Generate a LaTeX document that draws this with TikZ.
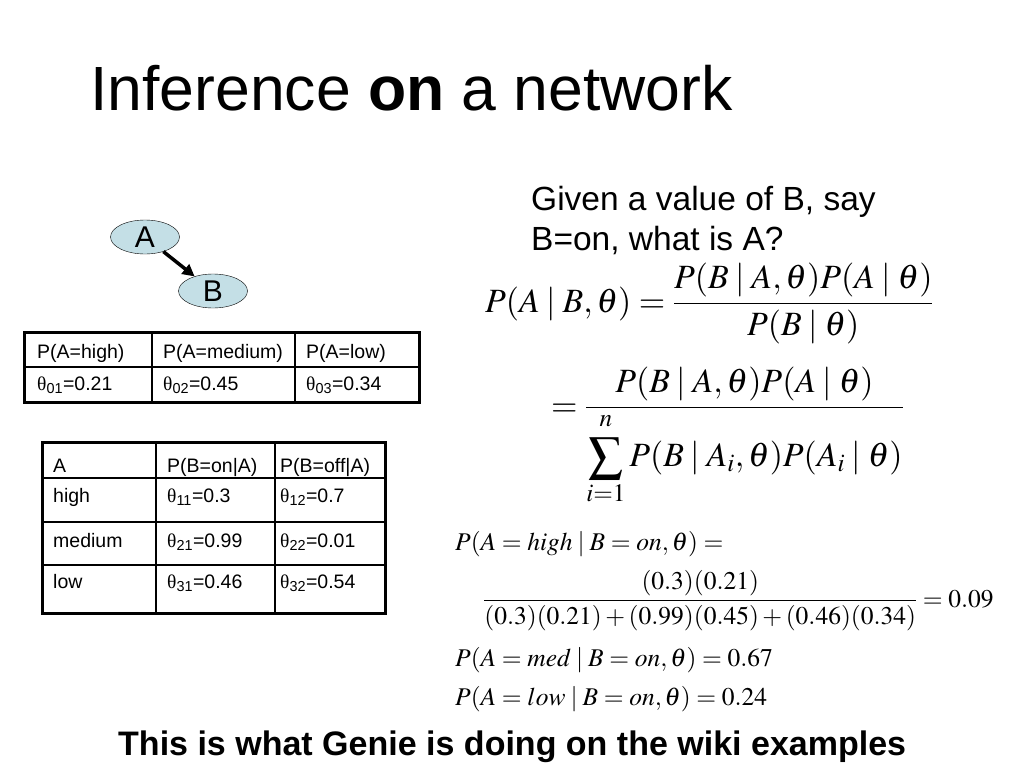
\documentclass[tikz,border=0pt]{standalone}
\usepackage{amsmath}
\usepackage{mathptmx}
\usepackage[no-math]{fontspec}
\setmainfont{Liberation Sans}
\newfontfamily\tms{Liberation Serif}
\usetikzlibrary{shapes.geometric,arrows.meta}

\definecolor{varblue}{RGB}{196,223,230}
\newcommand{\thp}[1]{{\tms θ}\textsubscript{#1}}
\newcommand{\gv}{\mskip3.5mu|\mskip3.5mu}

\begin{document}
\begin{tikzpicture}[x=1pt,y=-1pt,
    txt/.style={anchor=base west,inner sep=0pt},
    var/.style={ellipse,draw,fill=varblue,minimum width=69pt,minimum height=34pt,inner sep=0pt,font=\fontsize{30}{30}\selectfont},
    cell/.style={txt,font=\fontsize{19.5}{19.5}\selectfont},
    eq/.style={txt,font=\fontsize{34}{40}\selectfont},
    smalleq/.style={txt,font=\fontsize{25.5}{30}\selectfont},
    rule/.style={line width=1.2pt},
    frame/.style={line width=3pt}]
    \fill[white] (0,0) rectangle (1024,768);
    \useasboundingbox (0,0) rectangle (1024,768);

    \node[txt,font=\fontsize{62.5}{62.5}\selectfont] (title) at (90,110) {Inference \textbf{on} a network};
    \node[txt,font=\fontsize{33.5}{33.5}\selectfont] (q1) at (531,210) {Given a value of B, say};
    \node[txt,font=\fontsize{33.5}{33.5}\selectfont] (q2) at (531,250) {B=on, what is A?};

    \node[var] (A) at (145,237) {A};
    \node[var] (B) at (213,291) {B};
    \draw[-{Triangle[length=12pt,width=12pt]},line width=3.5pt] (A) -- (B);

    % prior table
    \draw[rule] (24,367) -- (419,367) (152,332) -- (152,402) (295,332) -- (295,402);
    \draw[frame] (24,332) rectangle (419,402);
    \foreach \t/\x [count=\i] in {P(A=high)/37,P(A=medium)/163,P(A=low)/306}
        \node[cell] (pa-h\i) at (\x,358) {\t};
    \foreach \t/\x [count=\i] in {\thp{01}=0.21/37,\thp{02}=0.45/163,\thp{03}=0.34/306}
        \node[cell] (pa-v\i) at (\x,390) {\t};

    % conditional table
    \draw[rule] (42,478) -- (385,478) (42,522) -- (385,522) (42,565) -- (385,565)
        (156,442) -- (156,613) (275,442) -- (275,613);
    \draw[frame] (42,442) rectangle (385,613);
    \foreach \y/\a/\b/\c [count=\r] in {472/A/P(B=on|A)/P(B=off|A),
        502/high/\thp{11}=0.3/\thp{12}=0.7,
        547/medium/\thp{21}=0.99/\thp{22}=0.01,
        588/low/\thp{31}=0.46/\thp{32}=0.54}{
        \node[cell] (pb-\r-1) at (53,\y) {\a};
        \node[cell] (pb-\r-2) at (167,\y) {\b};
        \node[cell] (pb-\r-3) at (280,\y) {\c};
    }

    \node[eq] (bayes) at (485,312) {$P(A\gv B,\theta)=\dfrac{P(B\gv A,\theta)P(A\gv\theta)}{P(B\gv\theta)}$};
    \node[eq] (norm) at (551,416) {$\displaystyle=\frac{P(B\gv A,\theta)P(A\gv\theta)}{\displaystyle\sum_{i=1}^{\rule[-7pt]{0pt}{7pt}n}P(B\gv A_i,\theta)P(A_i\gv\theta)}$};

    \node[smalleq] (high) at (455,550) {$P(A=high\gv B=on,\theta)=$};
    \node[smalleq] (highval) at (483,607) {$\displaystyle\frac{(0.3)(0.21)}{(0.3)(0.21)+(0.99)(0.45)+(0.46)(0.34)}=0.09$};
    \node[smalleq] (med) at (455,666) {$P(A=med\gv B=on,\theta)=0.67$};
    \node[smalleq] (low) at (455,705) {$P(A=low\gv B=on,\theta)=0.24$};

    \node[txt,font=\fontsize{34}{34}\selectfont\bfseries] (note) at (118,755) {This is what Genie is doing on the wiki examples};
\end{tikzpicture}
\end{document}
